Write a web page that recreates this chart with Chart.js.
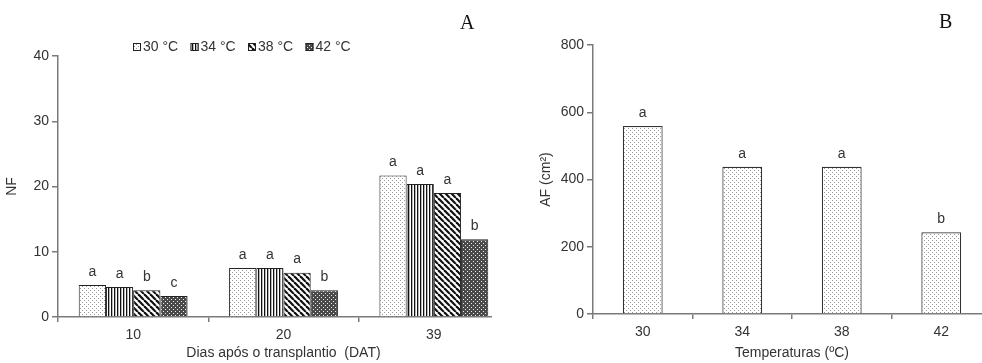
<!DOCTYPE html>
<html>
<head>
<meta charset="utf-8">
<script src="https://cdn.jsdelivr.net/npm/chart.js@4.4.0/dist/chart.umd.min.js"></script>
<style>
  body { margin: 0; background: #fff; }
  #wrap { position: relative; width: 982px; height: 363px; overflow: hidden; }
  .panel { position: absolute; top: 0; height: 363px; overflow: hidden; }
  #pA { left: 0; width: 492px; }
  #pB { left: 492px; width: 490px; }
  .tag { position: absolute; font-family: "Liberation Serif", serif; font-size: 20px; color: #111; }
</style>
</head>
<body>
<div id="wrap">
  <div class="panel" id="pA"><canvas id="chartA" width="510" height="363"></canvas></div>
  <div class="panel" id="pB"><canvas id="chartB" width="500" height="363"></canvas></div>
  <div class="tag" style="left:460px;top:11px">A</div>
  <div class="tag" style="left:939px;top:10px">B</div>
</div>
<script>
// number of leaves per day after transplanting
const days = ['10', '20', '39'];
const tempLabels = ['30 °C', '34 °C', '38 °C', '42 °C'];
const nf30 = [4.9, 7.5, 21.7];
const nf34 = [4.6, 7.5, 20.4];
const nf38 = [4.1, 6.8, 19.0];
const nf42 = [3.2, 4.1, 11.9];
const nfLetters = [['a', 'a', 'a'], ['a', 'a', 'a'], ['b', 'a', 'a'], ['c', 'b', 'b']];

// leaf area per temperature
const temps = ['30', '34', '38', '42'];
const af = [559, 438, 438, 243];
const afLetters = ['a', 'a', 'a', 'b'];

const textColor = '#333';
const axisColor = '#7a7a7a';
const fontFamily = 'Arial, "Liberation Sans", sans-serif';
const font = { family: fontFamily, size: 14 };

function makePattern(w, h, paint) {
  const c = document.createElement('canvas');
  c.width = w; c.height = h;
  const g = c.getContext('2d');
  g.fillStyle = '#fff';
  g.fillRect(0, 0, w, h);
  paint(g, w, h);
  return c.getContext('2d').createPattern(c, 'repeat');
}

const dotted = makePattern(4, 4, g => {
  g.fillStyle = '#9a9a9a';
  g.fillRect(0, 0, 1, 1);
  g.fillRect(2, 2, 1, 1);
});
const vlines = makePattern(3, 3, g => {
  g.fillStyle = '#111';
  g.fillRect(0, 0, 1.3, 3);
});
const diag = makePattern(6, 6, g => {
  g.strokeStyle = '#111';
  g.lineWidth = 2.2;
  for (let x0 = -6; x0 <= 6; x0 += 6) {
    g.beginPath(); g.moveTo(x0, 0); g.lineTo(x0 + 6, 6); g.stroke();
  }
});
const dense = makePattern(4, 4, g => {
  g.fillStyle = '#4a4a4a';
  g.fillRect(0, 0, 4, 4);
  g.fillStyle = '#eee';
  g.fillRect(1, 1, 1, 1);
  g.fillRect(3, 3, 1, 1);
});

// letters of the mean comparison test above each bar
const letterPlugin = {
  id: 'letters',
  afterDatasetsDraw(chart, args, opts) {
    const ctx = chart.ctx;
    ctx.save();
    ctx.fillStyle = textColor;
    ctx.font = '14px ' + fontFamily;
    ctx.textAlign = 'center';
    ctx.textBaseline = 'bottom';
    chart.data.datasets.forEach((ds, i) => {
      chart.getDatasetMeta(i).data.forEach((bar, j) => {
        ctx.fillText(opts.letters[i][j], bar.x, bar.y - 6);
      });
    });
    ctx.restore();
  }
};

// legend row with patterned swatches
const swatchLegend = {
  id: 'swatchLegend',
  afterDraw(chart, args, opts) {
    if (!opts.show) return;
    const ctx = chart.ctx;
    ctx.save();
    ctx.font = '14px ' + fontFamily;
    ctx.textBaseline = 'middle';
    chart.data.datasets.forEach((ds, i) => {
      const x = opts.x + i * 57.5;
      ctx.fillStyle = ds.backgroundColor;
      ctx.fillRect(x, opts.y - 4, 8, 8);
      ctx.strokeStyle = '#222';
      ctx.lineWidth = 1;
      ctx.strokeRect(x + 0.5, opts.y - 3.5, 7, 7);
      ctx.fillStyle = textColor;
      ctx.fillText(ds.label, x + 10, opts.y);
    });
    ctx.restore();
  }
};

function axes(yMax, yStep, yTitle, xTitle, yWidth, xHeight) {
  return {
    x: {
      grid: { display: true, drawOnChartArea: false, offset: true, tickLength: 5, color: axisColor, lineWidth: 1.5 },
      border: { display: true, color: axisColor, width: 1.5 },
      ticks: { color: textColor, font: font, padding: 5 },
      title: { display: true, text: xTitle, color: textColor, font: font, padding: { top: 0, bottom: 1 } },
      afterFit(s) { s.height = xHeight; }
    },
    y: {
      min: 0, max: yMax,
      grid: { display: true, drawOnChartArea: false, tickLength: 6, color: axisColor, lineWidth: 1.5 },
      border: { display: true, color: axisColor, width: 1.5 },
      ticks: { stepSize: yStep, color: textColor, font: font, padding: 3 },
      title: { display: true, text: yTitle, color: textColor, font: font, padding: 4 },
      afterFit(s) { s.width = yWidth; }
    }
  };
}

new Chart(document.getElementById('chartA'), {
  type: 'bar',
  data: {
    labels: days,
    datasets: [
      { label: tempLabels[0], data: nf30, backgroundColor: dotted },
      { label: tempLabels[1], data: nf34, backgroundColor: vlines },
      { label: tempLabels[2], data: nf38, backgroundColor: diag },
      { label: tempLabels[3], data: nf42, backgroundColor: dense }
    ].map(d => Object.assign(d, { borderColor: '#222', borderWidth: 1, categoryPercentage: 0.724, barPercentage: 1 }))
  },
  options: {
    responsive: false,
    animation: false,
    layout: { padding: { left: 0, top: 56, right: 1, bottom: 0 } },
    plugins: {
      legend: { display: false },
      tooltip: { enabled: false },
      letters: { letters: nfLetters },
      swatchLegend: { show: true, x: 133, y: 47 }
    },
    scales: axes(40, 10, 'NF', 'Dias após o transplantio  (DAT)', 58, 46)
  },
  plugins: [letterPlugin, swatchLegend]
});

new Chart(document.getElementById('chartB'), {
  type: 'bar',
  data: {
    labels: temps,
    datasets: [{
      label: 'AF', data: af, backgroundColor: dotted,
      borderColor: '#333', borderWidth: 1.2,
      categoryPercentage: 0.4, barPercentage: 1
    }]
  },
  options: {
    responsive: false,
    animation: false,
    layout: { padding: { left: 42, top: 45, right: 1, bottom: 0 } },
    plugins: {
      legend: { display: false },
      tooltip: { enabled: false },
      letters: { letters: [afLetters] },
      swatchLegend: { show: false }
    },
    scales: axes(800, 200, 'AF (cm²)', 'Temperaturas (ºC)', 59, 49)
  },
  plugins: [letterPlugin, swatchLegend]
});
</script>
</body>
</html>
